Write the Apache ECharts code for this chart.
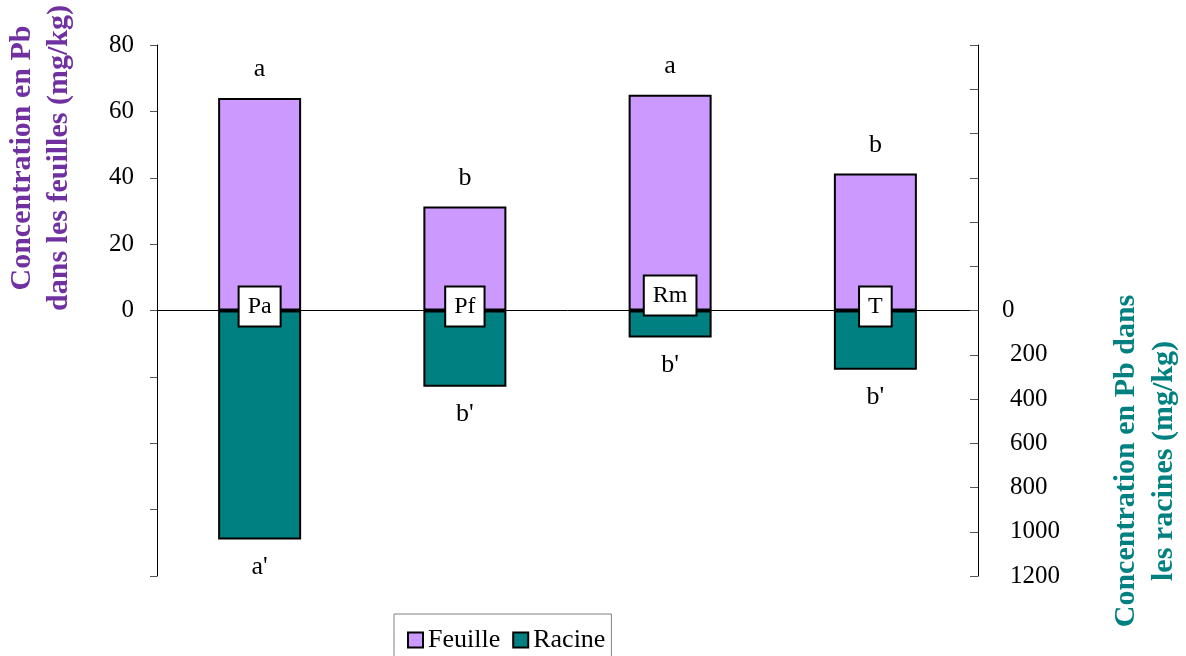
<!DOCTYPE html>
<html>
<head>
<meta charset="utf-8">
<script src="https://cdn.jsdelivr.net/npm/echarts@6/dist/echarts.min.js"></script>
<style>
html,body{margin:0;padding:0;background:#fff;}
#chart{width:1186px;height:656px;}
</style>
</head>
<body>
<div id="chart"></div>
<script>
// ---- data ----
var categories = ['Pa', 'Pf', 'Rm', 'T'];
var feuille = [64, 31.3, 65, 41.3];
var racine = [1035, 345, 122, 268];
var feuilleLetters = ['a', 'b', 'a', 'b'];
var racineLetters = ["a'", "b'", "b'", "b'"];
var leftTicks = [-80, 80, 20];
var rightTicks = [-1200, 1200, 200];

var FONT = 'Liberation Serif';
var chart = echarts.init(document.getElementById('chart'));

var option = {
  animation: false,
  backgroundColor: '#fff',
  textStyle: { fontFamily: FONT },
  grid: { left: 157, right: 208, top: 45, bottom: 80 },
  legend: {
    data: ['Feuille', 'Racine'],
    left: 394, top: 614,
    padding: [13, 6, 14, 13],
    borderColor: '#808080', borderWidth: 1,
    itemWidth: 15, itemHeight: 15, itemGap: 12,
    icon: 'rect',
    textStyle: { fontFamily: FONT, fontSize: 26, color: '#000' }
  },
  xAxis: {
    type: 'category',
    data: categories,
    axisLine: { onZero: true, lineStyle: { color: '#000', width: 1 } },
    axisTick: { show: false },
    axisLabel: { show: false }
  },
  yAxis: [
    {
      type: 'value', position: 'left',
      min: leftTicks[0], max: leftTicks[1], interval: leftTicks[2],
      splitLine: { show: false },
      axisLine: { show: true, lineStyle: { color: '#000', width: 1 } },
      axisTick: { show: true, inside: false, length: 7, lineStyle: { color: '#555' } },
      axisLabel: {
        fontFamily: FONT, fontSize: 25, color: '#000', margin: 23,
        formatter: function (v) { return v >= 0 ? String(v) : ''; }
      }
    },
    {
      type: 'value', position: 'right', inverse: true,
      min: rightTicks[0], max: rightTicks[1], interval: rightTicks[2],
      splitLine: { show: false },
      axisLine: { show: true, lineStyle: { color: '#000', width: 1 } },
      axisTick: { show: true, inside: true, length: 8, lineStyle: { color: '#555' } },
      axisLabel: {
        fontFamily: FONT, fontSize: 25, color: '#000', margin: 24, align: 'left',
        formatter: function (v) { return v > 0 ? '{s|}' + v : (v === 0 ? '0' : ''); },
        rich: { s: { width: 8 } }
      }
    }
  ],
  graphic: [
    {
      type: 'text',
      rotation: Math.PI / 2,
      style: {
        text: 'Concentration en Pb\ndans les feuilles (mg/kg)',
        font: 'bold 30px "Liberation Serif"',
        fill: '#7030A0', align: 'center', verticalAlign: 'middle', lineHeight: 37
      },
      x: 41, y: 158
    },
    {
      type: 'text',
      rotation: Math.PI / 2,
      style: {
        text: 'Concentration en Pb dans\nles racines (mg/kg)',
        font: 'bold 30px "Liberation Serif"',
        fill: '#008080', align: 'center', verticalAlign: 'middle', lineHeight: 38
      },
      x: 1145, y: 461
    }
  ],
  series: [
    {
      name: 'Feuille', type: 'bar', yAxisIndex: 0,
      data: feuille, barWidth: 83, barGap: '-100%',
      itemStyle: { color: '#CC99FF', borderColor: '#000', borderWidth: 2 }
    },
    {
      name: 'Racine', type: 'bar', yAxisIndex: 1,
      data: racine, barWidth: 83, barGap: '-100%',
      itemStyle: { color: '#008080', borderColor: '#000', borderWidth: 2 }
    },
    {
      name: 'lettersF', type: 'scatter', yAxisIndex: 0,
      symbolSize: 1, itemStyle: { color: 'transparent', opacity: 1 }, silent: true,
      data: feuille.map(function (v, i) { return { value: v, label: { formatter: feuilleLetters[i] } }; }),
      label: { show: true, position: 'top', distance: 15, fontFamily: FONT, fontSize: 26, color: '#000' }
    },
    {
      name: 'lettersR', type: 'scatter', yAxisIndex: 1,
      symbolSize: 1, itemStyle: { color: 'transparent', opacity: 1 }, silent: true,
      data: racine.map(function (v, i) { return { value: v, label: { formatter: racineLetters[i] } }; }),
      label: { show: true, position: 'bottom', distance: 14, fontFamily: FONT, fontSize: 26, color: '#000' }
    },
    {
      name: 'catBoxes', type: 'scatter', yAxisIndex: 0,
      symbolSize: 1, itemStyle: { color: 'transparent', opacity: 1 }, silent: true, z: 5,
      data: categories.map(function (c) {
        return { value: 0, label: { formatter: c, offset: [0, c === 'Rm' ? -15 : -4] } };
      }),
      label: {
        show: true, position: 'inside',
        fontFamily: FONT, fontSize: 24, color: '#000', lineHeight: 24,
        backgroundColor: '#fff', borderColor: '#000', borderWidth: 2,
        padding: [8, 8, 6, 8]
      }
    }
  ]
};
chart.setOption(option);
</script>
</body>
</html>
